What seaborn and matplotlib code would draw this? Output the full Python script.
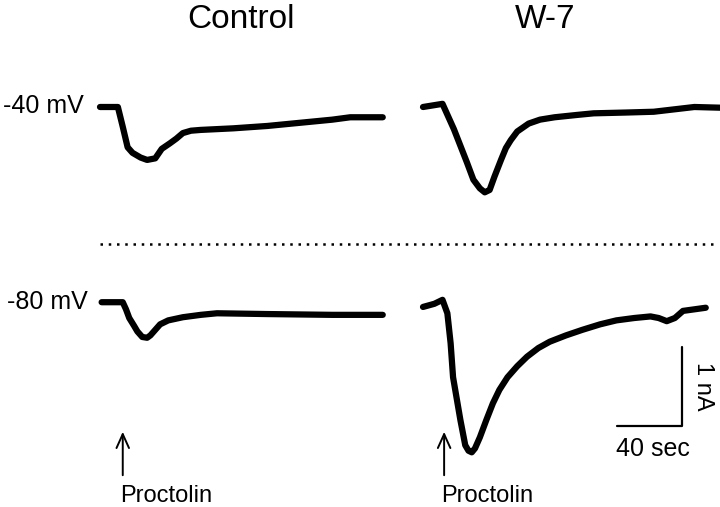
import pandas as pd
import matplotlib
matplotlib.use('Agg')
import matplotlib.pyplot as plt
import seaborn as sns

# Proctolin-evoked currents
# time in s from start of each sweep, current in nA relative to holding baseline
ctrl40_t = [0, 11, 14, 17, 20, 25, 29, 34, 38, 43, 47, 51, 56, 62, 72, 82, 103, 123, 143, 154, 174]
ctrl40_i = [0, 0, -0.25, -0.51, -0.58, -0.64, -0.67, -0.65, -0.53, -0.46, -0.40, -0.33,
            -0.30, -0.29, -0.28, -0.27, -0.24, -0.20, -0.16, -0.13, -0.13]

w7_40_t = [0, 12, 19, 27, 31, 35, 38, 41, 44, 48, 51, 54, 58, 65, 72, 81, 95, 105, 125, 142, 167, 185]
w7_40_i = [0, 0.04, -0.28, -0.70, -0.92, -1.03, -1.08, -1.05, -0.88, -0.67, -0.52, -0.42,
           -0.31, -0.21, -0.16, -0.13, -0.10, -0.08, -0.07, -0.06, 0, -0.01]

ctrl80_t = [1, 14, 16, 18, 21, 23, 26, 29, 31, 34, 37, 42, 51, 62, 72, 103, 143, 174]
ctrl80_i = [0.01, 0.01, -0.08, -0.19, -0.29, -0.36, -0.43, -0.44, -0.41, -0.34, -0.27,
            -0.22, -0.18, -0.15, -0.13, -0.14, -0.15, -0.15]

w7_80_t = [0, 7, 12, 15, 17, 18.5, 23, 26, 28, 30, 32, 35, 39, 43, 47, 52, 58, 64, 71, 78,
           88, 98, 109, 119, 130, 140, 145, 150, 155, 160, 167, 174]
w7_80_i = [-0.05, -0.01, 0.04, -0.13, -0.51, -0.94, -1.48, -1.80, -1.87, -1.89, -1.84,
           -1.70, -1.48, -1.27, -1.10, -0.94, -0.80, -0.68, -0.57, -0.49, -0.41, -0.34,
           -0.27, -0.22, -0.19, -0.17, -0.19, -0.23, -0.19, -0.10, -0.08, -0.06]

conditions = ['Control', 'W-7']
potentials = ['-40 mV', '-80 mV']
proctolin_t = [14, 13]      # time of proctolin application in each column
bar_sec = 40
bar_na = 1

# layout: pixels per unit so the whole figure is one axes in s / nA
PX_S = 1.625
PX_NA = 79.0
W, H = 720, 507

def sx(px):
    return px / PX_S

def sy(py):
    return -py / PX_NA

col_x0 = [sx(100), sx(423)]     # sweep start per column
row_y0 = [sy(107), sy(303)]     # baseline per row

traces = [(0, 0, ctrl40_t, ctrl40_i), (1, 0, w7_40_t, w7_40_i),
          (0, 1, ctrl80_t, ctrl80_i), (1, 1, w7_80_t, w7_80_i)]
frames = []
for k, (c, r, t, i) in enumerate(traces):
    frames.append(pd.DataFrame({'x': [v + col_x0[c] for v in t],
                                'y': [v + row_y0[r] for v in i],
                                'trace': k}))
df = pd.concat(frames, ignore_index=True)

sns.set_style('white')
plt.rcParams['font.family'] = ['Liberation Sans', 'DejaVu Sans']
plt.rcParams['text.color'] = 'black'

fig = plt.figure(figsize=(W / 100, H / 100), dpi=100)
ax = fig.add_axes([0, 0, 1, 1])
sns.lineplot(data=df, x='x', y='y', units='trace', estimator=None, sort=False,
             color='black', lw=4.5, solid_joinstyle='round', ax=ax, legend=False)
ax.set_xlim(0, sx(W))
ax.set_ylim(sy(H), 0)
ax.axis('off')

# column titles and holding potentials
for name, cx in zip(conditions, [241, 545]):
    ax.text(sx(cx), sy(19), name, fontsize=24, ha='center', va='center', color='black')
for lab, (lx, ly) in zip(potentials, [(3, 106), (7, 302)]):
    ax.text(sx(lx), sy(ly), lab, fontsize=18, ha='left', va='center', color='black')

# dotted separator
ax.plot([sx(100), sx(717)], [sy(244), sy(244)], color='black', lw=1.8,
        linestyle=(0, (1, 2.3)))

# proctolin arrows
for c, tp in enumerate(proctolin_t):
    xa = col_x0[c] + tp
    ax.annotate('', xy=(xa, sy(429)), xytext=(xa, sy(478)),
                arrowprops=dict(arrowstyle='->,head_length=1.0,head_width=0.45',
                                lw=1.4, color='black'))
    ax.text(xa - sx(3), sy(496), 'Proctolin', fontsize=17, ha='left', va='center',
            color='black')

# scale bar
cx, cy = sx(682), sy(426)
ax.plot([cx - bar_sec, cx, cx], [cy, cy, cy + bar_na], color='black', lw=1.6)
ax.text(cx - bar_sec / 2 + sx(3), sy(449), f'{bar_sec} sec', fontsize=18,
        ha='center', va='center', color='black')
ax.text(sx(703), cy + bar_na / 2, f'{bar_na} nA', fontsize=17, rotation=-90,
        ha='center', va='center', color='black')

fig.savefig('out.png', dpi=100)
